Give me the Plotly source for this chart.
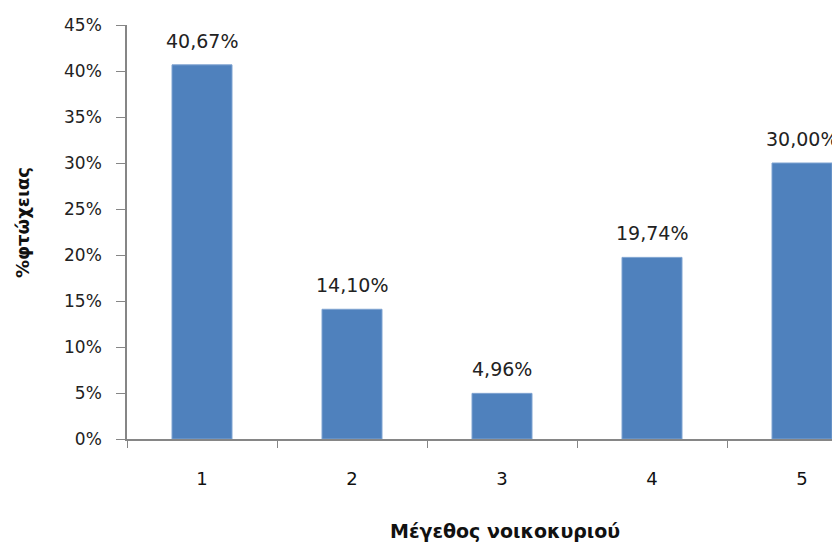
import plotly.graph_objects as go

categories = ["1", "2", "3", "4", "5"]
poverty = [40.67, 14.10, 4.96, 19.74, 30.00]
y_ticks = [0, 5, 10, 15, 20, 25, 30, 35, 40, 45]

FONT = "DejaVu Sans"
labels = [f"{v:.2f}%".replace(".", ",") for v in poverty]

# page body has an 8px margin; compensate so the plot sits where the reference has it
OFF = 8
PL, PT, PB = 127 - OFF, 25 - OFF, 439 - OFF
W, H = 840, 544
PW = W - PL
PH = PB - PT

fig = go.Figure()
fig.add_trace(go.Bar(
    x=categories,
    y=[v / 100 for v in poverty],
    width=0.4,
    marker=dict(color="#4F81BD", line=dict(color="#7FA3D1", width=1)),
    hoverinfo="skip",
))

for i, (v, t) in enumerate(zip(poverty, labels)):
    fig.add_annotation(x=i, y=v / 100, text=t, showarrow=False,
                       yanchor="bottom", yshift=11,
                       font=dict(family=FONT, size=19, color="#222222"))

fig.update_layout(
    width=W, height=H,
    margin=dict(l=PL, r=0, t=PT, b=H - PB),
    paper_bgcolor="white", plot_bgcolor="white",
    showlegend=False,
    xaxis=dict(
        type="category", range=[-0.5, -0.5 + PW / 150], automargin=False,
        showline=True, linecolor="#868686", linewidth=1.5,
        ticks="outside", tickson="boundaries", ticklen=7, tickcolor="#868686",
        tickfont=dict(family=FONT, size=18, color="#111111"),
        ticklabelstandoff=23,
        showgrid=False, zeroline=False,
    ),
    yaxis=dict(
        range=[0, 0.45], automargin=False, tickvals=[t / 100 for t in y_ticks],
        ticktext=[f"{t}%" for t in y_ticks],
        showline=True, linecolor="#868686", linewidth=1.5,
        ticks="outside", ticklen=9, tickcolor="#868686",
        tickfont=dict(family=FONT, size=17, color="#222222"),
        ticklabelstandoff=11,
        showgrid=False, zeroline=False,
    ),
)

fig.add_annotation(xref="paper", yref="paper", x=(505 - 127) / PW, y=-(531 - 439) / PH,
                   text="<b>Μέγεθος νοικοκυριού</b>", showarrow=False,
                   xanchor="center", yanchor="middle",
                   font=dict(family=FONT, size=19, color="#111111"))
fig.add_annotation(xref="paper", yref="paper", x=-(127 - 22) / PW, y=(439 - 223) / PH,
                   text="<b>%φτώχειας</b>", showarrow=False, textangle=-90,
                   xanchor="center", yanchor="middle",
                   font=dict(family=FONT, size=18, color="#111111"))

fig.write_html("out.html")
